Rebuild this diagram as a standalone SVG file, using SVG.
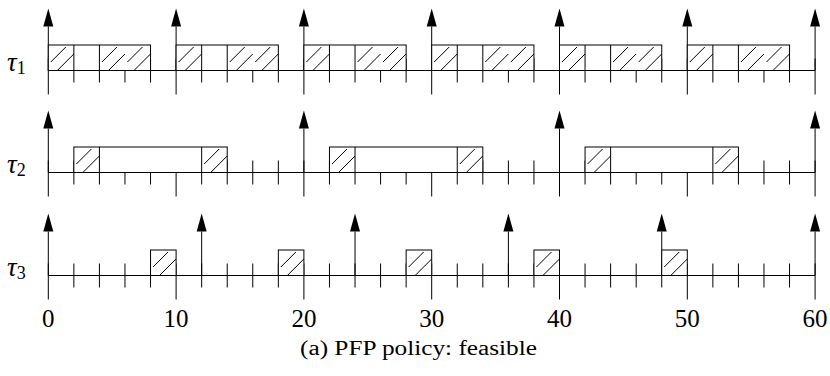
<svg xmlns="http://www.w3.org/2000/svg" xmlns:xlink="http://www.w3.org/1999/xlink" width="830" height="376" viewBox="0 0 830 376">
<style>
.ln{stroke:#000;stroke-width:1;fill:none}
.box{fill:#fff;stroke:#000;stroke-width:1}
.hat{stroke:#000;stroke-width:1}
text{font-family:'Liberation Serif','Times New Roman','DejaVu Serif',serif;fill:#000}
.num{font-size:25px;text-anchor:middle}
</style>
<defs>
<g id="ticks" class="ln">
<path d="M48.3 0H815.1"/>
<path d="M48.3 -12v36M176.1 -12v36M303.9 -12v36M431.7 -12v36M559.5 -12v36M687.3 -12v36M815.1 -12v36"/>
<path d="M73.86 -12v24M99.42 -12v24M124.98 -12v24M150.54 -12v24M201.66 -12v24M227.22 -12v24M252.78 -12v24M278.34 -12v24M329.46 -12v24M355.02 -12v24M380.58 -12v24M406.14 -12v24M457.26 -12v24M482.82 -12v24M508.38 -12v24M533.94 -12v24M585.06 -12v24M610.62 -12v24M636.18 -12v24M661.74 -12v24M712.86 -12v24M738.42 -12v24M763.98 -12v24M789.54 -12v24"/>
</g>
<g id="arr">
<path class="ln" d="M0 -44V0"/>
<polygon points="0,-62 -5,-44 5,-44" fill="#000"/>
</g>
<g id="h" class="hat">
<line x1="2.5" y1="17" x2="17.5" y2="2"/>
<line x1="9.5" y1="25" x2="25.5" y2="9"/>
</g>
</defs>

<g id="tau1">
<text x="7" y="70.5" font-size="27" font-family="'Liberation Serif',serif"><tspan font-style="italic">τ</tspan><tspan font-size="18" dy="3.5">1</tspan></text>
<use href="#ticks" xlink:href="#ticks" y="70.5"/>
<use href="#arr" xlink:href="#arr" x="48.3" y="70.5"/>
<use href="#arr" xlink:href="#arr" x="176.1" y="70.5"/>
<use href="#arr" xlink:href="#arr" x="303.9" y="70.5"/>
<use href="#arr" xlink:href="#arr" x="431.7" y="70.5"/>
<use href="#arr" xlink:href="#arr" x="559.5" y="70.5"/>
<use href="#arr" xlink:href="#arr" x="687.3" y="70.5"/>
<use href="#arr" xlink:href="#arr" x="815.1" y="70.5"/>
<rect class="box" x="48.3" y="45" width="102.24" height="25.5"/>
<rect class="box" x="176.1" y="45" width="102.24" height="25.5"/>
<rect class="box" x="303.9" y="45" width="102.24" height="25.5"/>
<rect class="box" x="431.7" y="45" width="102.24" height="25.5"/>
<rect class="box" x="559.5" y="45" width="102.24" height="25.5"/>
<rect class="box" x="687.3" y="45" width="102.24" height="25.5"/>
<path class="ln" d="M73.86 45V70.5M99.42 45V70.5M201.66 45V70.5M227.22 45V70.5M329.46 45V70.5M355.02 45V70.5M457.26 45V70.5M482.82 45V70.5M585.06 45V70.5M610.62 45V70.5M712.86 45V70.5M738.42 45V70.5"/>
<use href="#h" xlink:href="#h" x="48.3" y="45"/><use href="#h" xlink:href="#h" x="99.42" y="45"/><use href="#h" xlink:href="#h" x="124.98" y="45"/>
<use href="#h" xlink:href="#h" x="176.1" y="45"/><use href="#h" xlink:href="#h" x="227.22" y="45"/><use href="#h" xlink:href="#h" x="252.78" y="45"/>
<use href="#h" xlink:href="#h" x="303.9" y="45"/><use href="#h" xlink:href="#h" x="355.02" y="45"/><use href="#h" xlink:href="#h" x="380.58" y="45"/>
<use href="#h" xlink:href="#h" x="431.7" y="45"/><use href="#h" xlink:href="#h" x="482.82" y="45"/><use href="#h" xlink:href="#h" x="508.38" y="45"/>
<use href="#h" xlink:href="#h" x="559.5" y="45"/><use href="#h" xlink:href="#h" x="610.62" y="45"/><use href="#h" xlink:href="#h" x="636.18" y="45"/>
<use href="#h" xlink:href="#h" x="687.3" y="45"/><use href="#h" xlink:href="#h" x="738.42" y="45"/><use href="#h" xlink:href="#h" x="763.98" y="45"/>
</g>

<g id="tau2">
<text x="7" y="172.5" font-size="27" font-family="'Liberation Serif',serif"><tspan font-style="italic">τ</tspan><tspan font-size="18" dy="3.5">2</tspan></text>
<use href="#ticks" xlink:href="#ticks" y="172.5"/>
<use href="#arr" xlink:href="#arr" x="48.3" y="172.5"/>
<use href="#arr" xlink:href="#arr" x="303.9" y="172.5"/>
<use href="#arr" xlink:href="#arr" x="559.5" y="172.5"/>
<use href="#arr" xlink:href="#arr" x="815.1" y="172.5"/>
<rect class="box" x="73.86" y="147" width="153.36" height="25.5"/>
<rect class="box" x="329.46" y="147" width="153.36" height="25.5"/>
<rect class="box" x="585.06" y="147" width="153.36" height="25.5"/>
<path class="ln" d="M99.42 147V172.5M201.66 147V172.5M355.02 147V172.5M457.26 147V172.5M610.62 147V172.5M712.86 147V172.5"/>
<use href="#h" xlink:href="#h" x="73.86" y="147"/><use href="#h" xlink:href="#h" x="201.66" y="147"/>
<use href="#h" xlink:href="#h" x="329.46" y="147"/><use href="#h" xlink:href="#h" x="457.26" y="147"/>
<use href="#h" xlink:href="#h" x="585.06" y="147"/><use href="#h" xlink:href="#h" x="712.86" y="147"/>
</g>

<g id="tau3">
<text x="7" y="275.5" font-size="27" font-family="'Liberation Serif',serif"><tspan font-style="italic">τ</tspan><tspan font-size="18" dy="3.5">3</tspan></text>
<use href="#ticks" xlink:href="#ticks" y="275.5"/>
<use href="#arr" xlink:href="#arr" x="48.3" y="275.5"/>
<use href="#arr" xlink:href="#arr" x="201.66" y="275.5"/>
<use href="#arr" xlink:href="#arr" x="355.02" y="275.5"/>
<use href="#arr" xlink:href="#arr" x="508.38" y="275.5"/>
<use href="#arr" xlink:href="#arr" x="661.74" y="275.5"/>
<use href="#arr" xlink:href="#arr" x="815.1" y="275.5"/>
<rect class="box" x="150.54" y="250" width="25.56" height="25.5"/>
<rect class="box" x="278.34" y="250" width="25.56" height="25.5"/>
<rect class="box" x="406.14" y="250" width="25.56" height="25.5"/>
<rect class="box" x="533.94" y="250" width="25.56" height="25.5"/>
<rect class="box" x="661.74" y="250" width="25.56" height="25.5"/>
<use href="#h" xlink:href="#h" x="150.54" y="250"/>
<use href="#h" xlink:href="#h" x="278.34" y="250"/>
<use href="#h" xlink:href="#h" x="406.14" y="250"/>
<use href="#h" xlink:href="#h" x="533.94" y="250"/>
<use href="#h" xlink:href="#h" x="661.74" y="250"/>
</g>

<g id="axis-labels">
<text class="num" x="48.3" y="327">0</text>
<text class="num" x="176.1" y="327">10</text>
<text class="num" x="303.9" y="327">20</text>
<text class="num" x="431.7" y="327">30</text>
<text class="num" x="559.5" y="327">40</text>
<text class="num" x="687.3" y="327">50</text>
<text class="num" x="815.1" y="327">60</text>
</g>
<text id="caption" x="300" y="355" font-size="20" textLength="237" lengthAdjust="spacingAndGlyphs">(a) PFP policy: feasible</text>
</svg>
